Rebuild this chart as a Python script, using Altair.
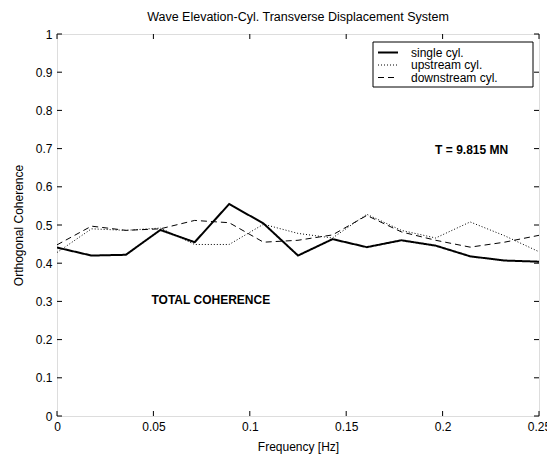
import altair as alt
import pandas as pd

# Frequency bins (Hz)
freq = [0.0, 0.0179, 0.0357, 0.0536, 0.0714, 0.0893, 0.1071, 0.125,
        0.1429, 0.1607, 0.1786, 0.1964, 0.2143, 0.2321, 0.25]

# Orthogonal coherence per configuration
single_cyl = [0.441, 0.420, 0.422, 0.487, 0.455, 0.555, 0.504, 0.420,
              0.463, 0.442, 0.460, 0.446, 0.418, 0.407, 0.404]
upstream_cyl = [0.428, 0.490, 0.486, 0.492, 0.449, 0.449, 0.502, 0.478,
                0.466, 0.528, 0.486, 0.466, 0.508, 0.472, 0.430]
downstream_cyl = [0.448, 0.497, 0.486, 0.490, 0.512, 0.506, 0.455, 0.460,
                  0.474, 0.525, 0.482, 0.460, 0.442, 0.455, 0.473]

series_names = ["single cyl.", "upstream cyl.", "downstream cyl."]
series_dash = [[1, 0], [1, 2], [6, 4]]
series_width = [2, 1, 1]

x_ticks = [0, 0.05, 0.1, 0.15, 0.2, 0.25]
y_ticks = [0, 0.1, 0.2, 0.3, 0.4, 0.5, 0.6, 0.7, 0.8, 0.9, 1]

FONT = "Liberation Sans"
W, H = 482, 382
X_TITLE = "Frequency [Hz]"
Y_TITLE = "Orthogonal Coherence"

rows = []
for name, vals in zip(series_names, [single_cyl, upstream_cyl, downstream_cyl]):
    for f, v in zip(freq, vals):
        rows.append({"freq": f, "coh": v, "series": name})
df = pd.DataFrame(rows)

x_scale = alt.Scale(domain=[0, 0.25], nice=False, zero=False)
y_scale = alt.Scale(domain=[0, 1], nice=False)

x_axis = alt.Axis(values=x_ticks, format="~g", tickSize=0, domain=False, grid=False,
                  labelFlush=False, labelOverlap=False, labelPadding=5, labelFont=FONT,
                  labelFontSize=12, labelColor="black", titleFont=FONT, titleFontSize=12,
                  titleFontWeight="normal", titleColor="black", titlePadding=9)
y_axis = alt.Axis(values=y_ticks, format="~g", tickSize=0, domain=False, grid=False,
                  labelOverlap=False, labelPadding=5, labelFont=FONT, labelFontSize=12,
                  labelColor="black", titleFont=FONT, titleFontSize=12,
                  titleFontWeight="normal", titleColor="black", titlePadding=10)


def xenc(field=None, datum=None):
    if datum is not None:
        return alt.X(datum=datum, scale=x_scale, axis=x_axis, title=X_TITLE)
    return alt.X(field, type="quantitative", scale=x_scale, axis=x_axis, title=X_TITLE)


def yenc(field=None, datum=None):
    if datum is not None:
        return alt.Y(datum=datum, scale=y_scale, axis=y_axis, title=Y_TITLE)
    return alt.Y(field, type="quantitative", scale=y_scale, axis=y_axis, title=Y_TITLE)


lines = []
for name, dash, sw in zip(series_names, series_dash, series_width):
    lines.append(
        alt.Chart(df[df["series"] == name]).mark_line(
            color="black", strokeWidth=sw, strokeDash=dash, clip=True
        ).encode(x=xenc("freq"), y=yenc("coh"))
    )

# Inward tick marks on all four sides of the box
xt = pd.DataFrame({"v": x_ticks})
yt = pd.DataFrame({"v": y_ticks})
tick_style = dict(color="black", strokeWidth=1)
ticks = [
    alt.Chart(xt).mark_rule(**tick_style).encode(
        x=xenc("v"), y=alt.value(H), y2=alt.value(H - 5)),
    alt.Chart(xt).mark_rule(**tick_style).encode(
        x=xenc("v"), y=alt.value(0), y2=alt.value(5)),
    alt.Chart(yt).mark_rule(**tick_style).encode(
        y=yenc("v"), x=alt.value(0), x2=alt.value(5)),
    alt.Chart(yt).mark_rule(**tick_style).encode(
        y=yenc("v"), x=alt.value(W), x2=alt.value(W - 5)),
]

one = pd.DataFrame({"k": [0]})

# Legend box with line samples
legend = [
    alt.Chart(one).mark_rect(fill="white", stroke="black", strokeWidth=1).encode(
        x=alt.value(316), x2=alt.value(476), y=alt.value(8), y2=alt.value(53))
]
for i, (name, dash, sw) in enumerate(zip(series_names, series_dash, series_width)):
    yy = 18.5 + i * 12.5
    legend.append(
        alt.Chart(one).mark_rule(color="black", strokeWidth=sw, strokeDash=dash).encode(
            x=alt.value(321), x2=alt.value(341), y=alt.value(yy)))
    legend.append(
        alt.Chart(one).mark_text(align="left", baseline="middle", font=FONT,
                                 fontSize=12, color="black").encode(
            x=alt.value(354), y=alt.value(yy), text=alt.value(name)))

# Annotations
notes = [
    alt.Chart(one).mark_text(align="right", baseline="alphabetic", font=FONT,
                             fontSize=12, fontWeight="bold", color="black").encode(
        x=xenc(datum=0.234), y=yenc(datum=0.685), text=alt.value("T = 9.815 MN")),
    alt.Chart(one).mark_text(align="left", baseline="alphabetic", font=FONT,
                             fontSize=12, fontWeight="bold", color="black").encode(
        x=xenc(datum=0.049), y=yenc(datum=0.292), text=alt.value("TOTAL COHERENCE")),
]

chart = alt.layer(*lines, *ticks, *legend, *notes).properties(
    width=W, height=H,
    title=alt.TitleParams("Wave Elevation-Cyl. Transverse Displacement System",
                          font=FONT, fontSize=12.5, fontWeight="normal", color="black",
                          anchor="middle", offset=5),
    autosize=alt.AutoSizeParams(type="none"),
    padding={"left": 57, "top": 34, "right": 8, "bottom": 41},
).configure_view(stroke="black", strokeWidth=1).configure_axis(
    labelOverlap=False
).configure(background="white")

chart.save("out.html", embed_options={"renderer": "svg", "actions": False})
